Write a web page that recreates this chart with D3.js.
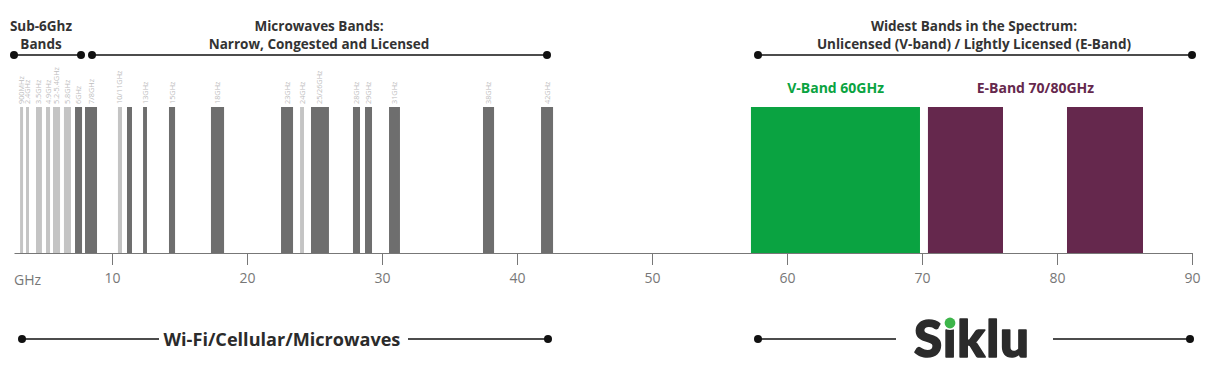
<!DOCTYPE html>
<html><head><meta charset="utf-8">
<script src="https://cdn.jsdelivr.net/npm/d3@7"></script>
<style>
html,body{margin:0;padding:0;background:#fff;}
svg{display:block;font-family:"Open Sans",sans-serif;}
</style></head><body>
<svg id="c" width="1206" height="377"></svg>
<script>
// ---- data (positions in GHz on the chart's axis) ----
const bandLabels = ["900MHz","2.4GHz","3.5GHz","4.9GHz","5.2-5.4GHz","5.8GHz","6GHz","7/8GHz","10/11GHz","","13GHz","15GHz","18GHz","23GHz","24GHz","25/26GHz","28GHz","29GHz","31GHz","38GHz","42GHz"];
const bandStart = [3.19,3.63,4.37,5.11,5.63,6.44,7.26,8.00,10.44,11.11,12.30,14.22,17.33,22.52,23.93,24.74,27.85,28.74,30.52,37.48,41.78];
const bandEnd   = [3.41,3.85,4.81,5.41,6.15,6.96,7.78,8.89,10.74,11.48,12.59,14.67,18.30,23.41,24.22,26.07,28.37,29.26,31.33,38.30,42.67];
const bandType  = ["unlic","unlic","unlic","unlic","unlic","unlic","lic","lic","unlic","lic","lic","lic","lic","lic","unlic","lic","lic","lic","lic","lic","lic"];
const wideBandStart = [57.33,70.44,80.74];
const wideBandEnd   = [69.85,76.00,86.37];
const wideBandType  = ["v","e","e"];
const tickValues = [10,20,30,40,50,60,70,80,90];

const colors = {unlic:"#c4c4c4", lic:"#6e6e6e", v:"#0aa341", e:"#65284d"};

const svg = d3.select("#c");
const x = d3.scaleLinear().domain([2.74,90]).range([14,1192]);
const y = d3.scaleLinear().domain([0,1]).range([253,107]);

const bands = bandStart.map((s,i)=>({s, e:bandEnd[i], t:bandType[i], l:bandLabels[i]}));
const wide = wideBandStart.map((s,i)=>({s, e:wideBandEnd[i], t:wideBandType[i]}));

svg.append("g").selectAll("rect").data(bands.concat(wide)).join("rect")
  .attr("x", d=>x(d.s)).attr("width", d=>x(d.e)-x(d.s))
  .attr("y", y(1)).attr("height", y(0)-y(1))
  .attr("fill", d=>colors[d.t]);

// small rotated labels
svg.append("g").selectAll("text").data(bands.filter(d=>d.l)).join("text")
  .attr("transform", d=>`translate(${(x(d.s)+x(d.e))/2+2.5},104) rotate(-90)`)
  .attr("text-anchor","start")
  .attr("font-size","7.3px")
  .attr("fill","#bdbdbd")
  .text(d=>d.l);

// axis
const ax = svg.append("g").attr("transform","translate(0,253)")
  .call(d3.axisBottom(x).tickValues(tickValues).tickSize(12).tickSizeOuter(0).tickPadding(8));
ax.select(".domain").attr("stroke","#777");
ax.selectAll(".tick line").attr("stroke","#777");
ax.selectAll(".tick text").attr("font-size","14px").attr("fill","#777").attr("font-family","Open Sans, sans-serif");
svg.append("text").attr("x",14).attr("y",285).attr("font-size","14px").attr("fill","#777").text("GHz");

// band titles
svg.append("text").attr("x",x(63.6)).attr("y",93).attr("text-anchor","middle")
  .attr("font-size","14px").attr("font-weight",700).attr("fill",colors.v).text("V-Band 60GHz");
svg.append("text").attr("x",x(78.4)).attr("y",93).attr("text-anchor","middle")
  .attr("font-size","14px").attr("font-weight",700).attr("fill",colors.e).text("E-Band 70/80GHz");

// brackets
function bracket(x1,x2,yy){
  svg.append("line").attr("x1",x1).attr("x2",x2).attr("y1",yy).attr("y2",yy).attr("stroke","#111").attr("stroke-width",1.6);
  [x1,x2].forEach(cx=>svg.append("circle").attr("cx",cx).attr("cy",yy).attr("r",4).attr("fill","#111"));
}
bracket(14,81,55);
bracket(92,547,55);
bracket(758,1192,55);

function head(lines,cx){
  lines.forEach((t,i)=>svg.append("text").attr("x",cx).attr("y",31+i*18).attr("text-anchor","middle")
    .attr("font-size","13.5px").attr("font-weight",700).attr("fill","#333").text(t));
}
head(["Sub-6Ghz","Bands"],41);
head(["Microwaves Bands:","Narrow, Congested and Licensed"],319);
head(["Widest Bands in the Spectrum:","Unlicensed (V-band) / Lightly Licensed (E-Band)"],974);

// bottom
svg.append("line").attr("x1",22).attr("x2",159).attr("y1",339).attr("y2",339).attr("stroke","#111").attr("stroke-width",1.6);
svg.append("line").attr("x1",408).attr("x2",548).attr("y1",339).attr("y2",339).attr("stroke","#111").attr("stroke-width",1.6);
[22,548].forEach(cx=>svg.append("circle").attr("cx",cx).attr("cy",339).attr("r",4).attr("fill","#111"));
svg.append("text").attr("x",282).attr("y",346).attr("text-anchor","middle")
  .attr("font-size","18.1px").attr("font-weight",700).attr("fill","#2b2b2b").text("Wi-Fi/Cellular/Microwaves");

svg.append("line").attr("x1",758).attr("x2",896).attr("y1",339).attr("y2",339).attr("stroke","#111").attr("stroke-width",1.6);
svg.append("line").attr("x1",1053).attr("x2",1190).attr("y1",339).attr("y2",339).attr("stroke","#111").attr("stroke-width",1.6);
[758,1190].forEach(cx=>svg.append("circle").attr("cx",cx).attr("cy",339).attr("r",4).attr("fill","#111"));
svg.append("text").attr("x",972).attr("y",357).attr("text-anchor","middle")
  .attr("font-size","51px").attr("font-weight",900).attr("font-family","Lato, sans-serif")
  .attr("letter-spacing","1px").attr("fill","#2b2b2b")
  .attr("stroke","#2b2b2b").attr("stroke-width",1.6).attr("stroke-linejoin","round").text("Siklu");
svg.append("circle").attr("cx",950).attr("cy",323).attr("r",7).attr("fill","#fff");
svg.append("circle").attr("cx",950).attr("cy",323).attr("r",5.4).attr("fill","#3db54a");
</script>
</body></html>
